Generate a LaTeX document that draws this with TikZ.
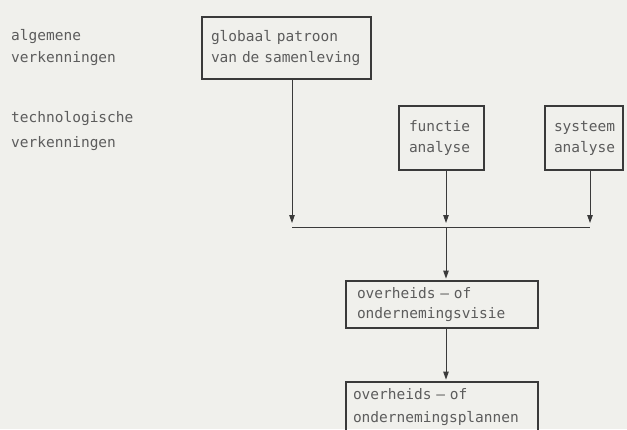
\documentclass[tikz,border=0pt]{standalone}
\usepackage{fontspec}
\newfontfamily\drawfont{DejaVu Sans Mono}
\usetikzlibrary{arrows.meta}
\definecolor{bgcol}{HTML}{F0F0EC}
\definecolor{txtcol}{HTML}{5C5C5C}
\definecolor{linecol}{HTML}{3A3A3A}
\begin{document}
\begin{tikzpicture}[x=1pt,y=-1pt,
  lbl/.style={anchor=base west, align=left, inner sep=0pt, text=txtcol,
    font={\fontsize{14.5}{22}\selectfont\drawfont}},
  box/.style={draw=linecol, line width=2.4pt, align=left, text=txtcol,
    inner ysep=2pt, font={\fontsize{14.5}{21}\selectfont\drawfont}},
  conn/.style={draw=linecol, line width=0.9pt},
  arr/.style={conn, -{Triangle[length=8pt,width=5.5pt]}, shorten >=4pt}]
\useasboundingbox (0,0) rectangle (627,429);
\fill[bgcol] (0,0) rectangle (627,429);

% left labels (anchor at baseline of last line)
\node[lbl] (alg) at (11,62) {algemene\\verkenningen};
\node[lbl, font={\fontsize{14.5}{25}\selectfont\drawfont}] (tech) at (11,147) {technologische\\verkenningen};

% boxes
\node[box, minimum width=169pt, minimum height=62pt, inner xsep=9pt, text width=151pt] (glob) at (286.5,48) {globaal patroon\\van de samenleving};
\node[box, minimum width=85pt, minimum height=64pt, inner xsep=10pt, text width=65pt] (func) at (441.5,138) {functie\\analyse};
\node[box, minimum width=78pt, minimum height=64pt, inner xsep=9pt, text width=60pt] (sys) at (584,138) {systeem\\analyse};
\node[box, minimum width=192pt, minimum height=47pt, inner xsep=11pt, text width=170pt, font={\fontsize{14.5}{20}\selectfont\drawfont}] (visie) at (442,304.5) {overheids – of\\ondernemingsvisie};
\node[box, minimum width=192pt, minimum height=50pt, inner xsep=7pt, text width=178pt, font={\fontsize{14.5}{23}\selectfont\drawfont}] (plan) at (442,407) {overheids – of\\ondernemingsplannen};

% junction points
\coordinate (jL) at (292,227);
\coordinate (jM) at (446,227);
\coordinate (jR) at (590,227);

\draw[arr] (glob.south -| jL) -- (jL);
\draw[arr] (func.south -| jM) -- (jM);
\draw[arr] (sys.south -| jR) -- (jR);
\draw[conn] (jL) -- (jR);
\draw[arr, shorten >=1.2pt] (jM) -- (jM |- visie.north);
\draw[arr, shorten >=1.2pt] (visie.south -| jM) -- (plan.north -| jM);
\end{tikzpicture}
\end{document}
